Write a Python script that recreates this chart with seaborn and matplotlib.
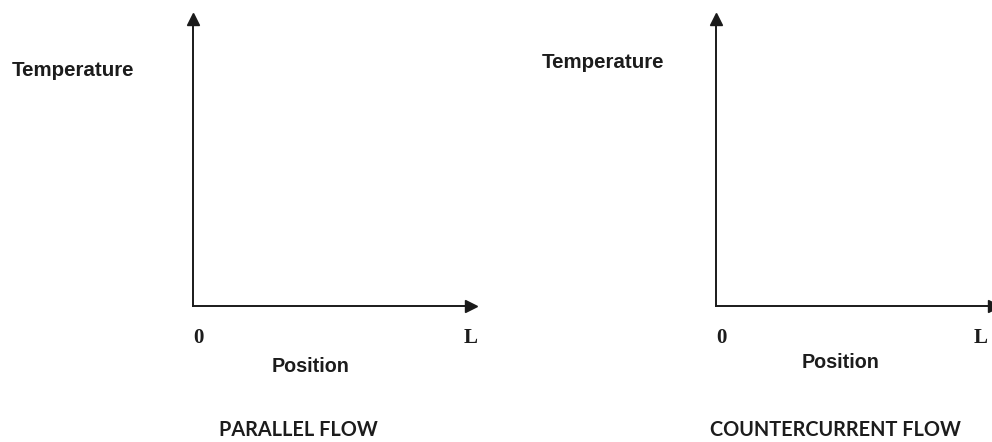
import matplotlib
matplotlib.use("Agg")
import matplotlib.pyplot as plt
import matplotlib.transforms as mtransforms
import seaborn as sns

# ==========================================
# Data (labels only - the axes are empty)
# ==========================================

panel_titles = ["PARALLEL FLOW", "COUNTERCURRENT FLOW"]
y_labels = ["Temperature", "Temperature"]
x_labels = ["Position", "Position"]
x_tick_positions = [0, 1]
x_tick_labels = ["0", "L"]

# ==========================================
# Layout (figure pixels, 992 x 442)
# ==========================================

W, H = 992, 442
axis_left_px = [193, 716]
axis_bottom_px = 306
axis_top_px = 19
axis_width_px = 278

ylabel_pos = [(12, 70), (542, 63)]
xlabel_pos = [(311, 366), (841, 362)]
title_pos = [(298, 430), (835, 430)]

line_color = "#1a1a1a"
text_color = "#1c1c1c"


def fx(x):
    return x / W


def fy(y):
    return 1 - y / H


def main():

    sns.set_style("white")
    plt.rcParams["font.family"] = ["Liberation Sans", "DejaVu Sans"]

    fig = plt.figure(figsize=(W / 100, H / 100), dpi=100)

    for i in range(2):

        ax = fig.add_axes([
            fx(axis_left_px[i]),
            fy(axis_bottom_px),
            axis_width_px / W,
            (axis_bottom_px - axis_top_px) / H,
        ])

        sns.despine(ax=ax)

        for side in ["left", "bottom"]:
            ax.spines[side].set_color(line_color)
            ax.spines[side].set_linewidth(1.4)

        ax.set_xlim(0, 1)
        ax.set_ylim(0, 1)

        # arrow heads at the end of each axis
        ax.plot(1, 0, ">", color=line_color, markersize=8,
                transform=ax.transAxes, clip_on=False)
        ax.plot(0, 1, "^", color=line_color, markersize=8,
                transform=ax.transAxes, clip_on=False)

        ax.set_yticks([])
        ax.set_xticks(x_tick_positions)
        ax.set_xticklabels(
            x_tick_labels,
            fontfamily="Liberation Serif",
            fontweight="bold",
            fontsize=15,
            color=text_color,
        )
        ax.tick_params(axis="x", length=0, pad=16)
        ticks = ax.get_xticklabels()
        ticks[0].set_horizontalalignment("left")
        if i == 1:
            # keep the right-hand "L" inside the canvas
            ticks[1].set_horizontalalignment("right")
            shift = mtransforms.ScaledTranslation(-0.06, 0, fig.dpi_scale_trans)
            ticks[1].set_transform(ticks[1].get_transform() + shift)

        fig.text(
            fx(ylabel_pos[i][0]), fy(ylabel_pos[i][1]), y_labels[i],
            ha="left", va="center", fontsize=14.8, fontweight="bold",
            color=text_color,
        )

        fig.text(
            fx(xlabel_pos[i][0]), fy(xlabel_pos[i][1]), x_labels[i],
            ha="center", va="center", fontsize=14.2, fontweight="bold",
            color=text_color,
        )

        fig.text(
            fx(title_pos[i][0]), fy(title_pos[i][1]), panel_titles[i],
            ha="center", va="center", fontsize=14.3, fontweight="bold",
            fontfamily="Lato", color=text_color,
        )

    fig.savefig("out.png", dpi=100)
    plt.close(fig)


if __name__ == "__main__":
    main()
